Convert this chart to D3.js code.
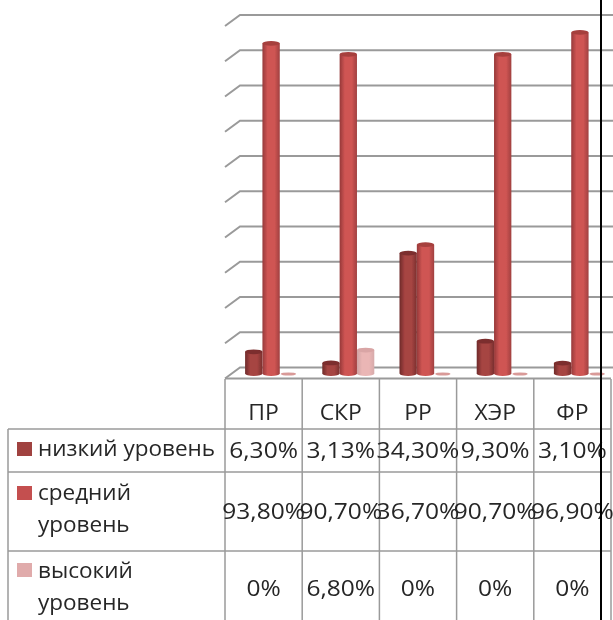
<!DOCTYPE html>
<html><head><meta charset="utf-8">
<script src="https://cdn.jsdelivr.net/npm/d3@7"></script>
<style>html,body{margin:0;padding:0;background:#fff;overflow:hidden}svg{display:block}</style>
</head><body><div id="c"></div>
<script>
const categories = ["ПР","СКР","РР","ХЭР","ФР"];
const seriesNames = [["низкий уровень"],["средний","уровень"],["высокий","уровень"]];
const low = [6.3,3.13,34.3,9.3,3.1];
const mid = [93.8,90.7,36.7,90.7,96.9];
const high = [0,6.8,0,0,0];
const lowLabels = ["6,30%","3,13%","34,30%","9,30%","3,10%"];
const midLabels = ["93,80%","90,70%","36,70%","90,70%","96,90%"];
const highLabels = ["0%","6,80%","0%","0%","0%"];
const ticks = d3.range(0,101,10);
const series=[low,mid,high], labels=[lowLabels,midLabels,highLabels];
const colors=[["#6e2a29","#a64442","#7a302e"],["#96393a","#cf5553","#a04040"],["#d0a4a4","#eab6b5","#d6aaaa"]];
const tops=["#7c2f2e","#a63f3e","#d9a5a5"];
const swatch=["#a04241","#c4504f","#e0abab"];
const W=613,H=620,dx=15,dy=11;
const svg=d3.select("#c").append("svg").attr("width",W).attr("height",H).attr("font-family","'Open Sans',sans-serif");
const defs=svg.append("defs");
defs.append("filter").attr("id","soft").attr("x","-5%").attr("y","-5%").attr("width","110%").attr("height","110%").append("feGaussianBlur").attr("stdDeviation",0.7);
colors.forEach((c,i)=>{const g=defs.append("linearGradient").attr("id","g"+i);
 [[0,c[0]],[.3,c[1]],[.7,c[1]],[1,c[2]]].forEach(s=>g.append("stop").attr("offset",s[0]).attr("stop-color",s[1]));});
const root=svg.append("g").attr("filter","url(#soft)");
const x=d3.scaleBand().domain(categories).range([225,611]);
const y=d3.scaleLinear().domain([0,100]).range([378.5,26]);
const sub=d3.scaleBand().domain([0,1,2]).range([x.bandwidth()/2-26+7.5,x.bandwidth()/2+26+7.5]);
const grid="#9a9a9a";
const right=613;
ticks.forEach(t=>{root.append("path").attr("d",d3.line()([[x.range()[0],y(t)],[x.range()[0]+dx,y(t)-dy],[right,y(t)-dy]])).attr("fill","none").attr("stroke",grid).attr("stroke-width",2);});
root.append("path").attr("d",d3.line()([[225,378.5],[611,378.5]])).attr("stroke",grid).attr("stroke-width",2);
const w=sub.bandwidth(), ry=2.4, off=-5.5;
series.forEach((vals,i)=>{
 const g=root.append("g");
 categories.forEach((c,k)=>{
  const v=vals[k], x0=x(c)+sub(i), x1=x0+w, yb=y(0)+off+0.5, yt=y(v)+off+1;
  if(v===0){g.append("ellipse").attr("cx",(x0+x1)/2).attr("cy",yb+0.5).attr("rx",w/2-1).attr("ry",1.6).attr("fill","#d99a98");return;}
  g.append("path").attr("d",`M${x0},${yt}L${x0},${yb}A${w/2},${ry} 0 0 0 ${x1},${yb}L${x1},${yt}Z`).attr("fill",`url(#g${i})`);
  g.append("ellipse").attr("cx",(x0+x1)/2).attr("cy",yt).attr("rx",w/2).attr("ry",ry).attr("fill",tops[i]);
 });
});
const rows=[379,429,472,551];
const line=(a,b,c,d)=>root.append("line").attr("x1",a).attr("y1",b).attr("x2",c).attr("y2",d).attr("stroke",grid).attr("stroke-width",1.5);
const xs=[...categories.map(c=>x(c)),611];
xs.forEach(v=>line(v,rows[0],v,H+5));
line(8,rows[1],8,H+5);
[1,2,3].forEach(r=>line(8,rows[r],611,rows[r]));
const fs=22.5, ink="#262626";
const text=(s,a,b,anchor,stretch)=>{const t=root.append("text").attr("x",a).attr("y",b).attr("text-anchor",anchor||"middle").attr("font-size",fs).attr("fill",ink).text(s);
 if(stretch){t.attr("textLength",t.node().getComputedTextLength()*stretch).attr("lengthAdjust","spacingAndGlyphs");}return t;};
categories.forEach((c,k)=>{const cx=x(c)+x.bandwidth()/2;
 text(c,cx,420,"middle",1.02);
 labels.forEach((l,r)=>text(l[k],cx,[458,519,596][r],"middle",1.09));
});
const ty=[[456],[500,532],[578,610]], sy=[442,486,563];
seriesNames.forEach((n,r)=>{
 root.append("rect").attr("x",17).attr("y",sy[r]).attr("width",15).attr("height",14).attr("fill",swatch[r]);
 n.forEach((s,j)=>text(s,38,ty[r][j],"start"));
});
svg.append("line").attr("x1",601).attr("y1",0).attr("x2",601).attr("y2",H).attr("stroke","#000").attr("stroke-width",2);
</script></body></html>
